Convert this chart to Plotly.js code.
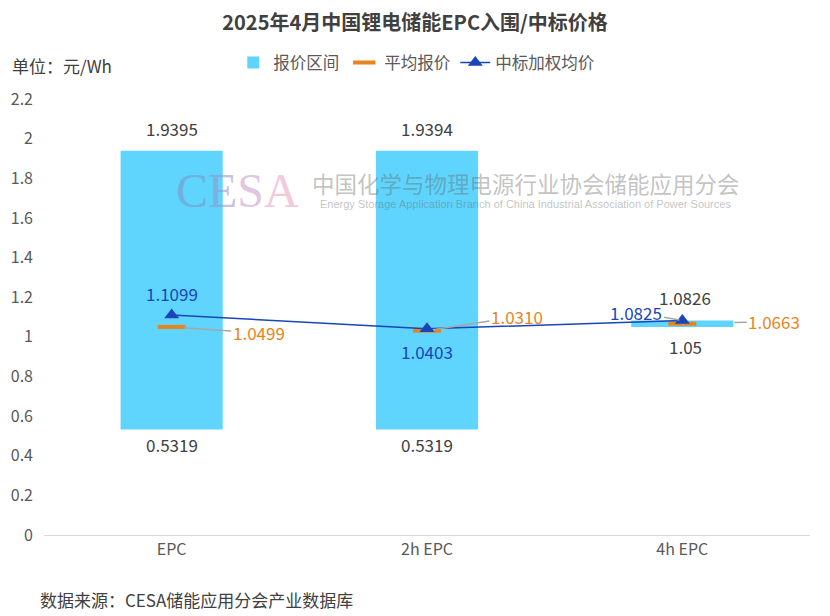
<!DOCTYPE html>
<html><head><meta charset="utf-8">
<script src="https://cdn.plot.ly/plotly-3.0.1.min.js"></script>
<style>body{margin:0;}#c{width:830px;height:616px;}</style>
</head><body><div id="c"></div>
<script>
const categories = ['EPC', '2h EPC', '4h EPC'];
const minPrice = [0.5319, 0.5319, 1.05];
const maxPrice = [1.9395, 1.9394, 1.0826];
const avgPrice = [1.0499, 1.0310, 1.0663];
const weightedPrice = [1.1099, 1.0403, 1.0825];
const yTicks = [0, 0.2, 0.4, 0.6, 0.8, 1, 1.2, 1.4, 1.6, 1.8, 2, 2.2];

const FONT = '"Noto Sans CJK SC", "Microsoft YaHei", sans-serif';
const BLUE = '#1846b8';
const ORANGE = '#e8841c';
const DARK = '#404040';

const traces = [
  {type: 'bar', name: '报价区间', x: categories,
   y: maxPrice.map((v, i) => v - minPrice[i]), base: minPrice,
   marker: {color: '#5fd4fd'}, hoverinfo: 'skip'},
  {type: 'scatter', mode: 'markers', name: '平均报价', x: categories, y: avgPrice,
   marker: {symbol: 'line-ew', size: 20, color: ORANGE, line: {color: ORANGE, width: 4}}},
  {type: 'scatter', mode: 'lines+markers', name: '中标加权均价', x: categories, y: weightedPrice,
   line: {color: BLUE, width: 1.5},
   marker: {symbol: 'triangle-up', size: 13, color: BLUE}}
];

const ann = [];
const lbl = (x, y, text, color, opts) => Object.assign({x: x, y: y, xref: 'x', yref: 'y', text: text,
  showarrow: false, font: {family: FONT, size: 17, color: color}}, opts);

categories.forEach((c, i) => {
  if (i < 2) {
    ann.push(lbl(c, maxPrice[i], maxPrice[i].toFixed(4), DARK, {yanchor: 'bottom', yshift: 8}));
    ann.push(lbl(c, minPrice[i], minPrice[i].toFixed(4), DARK, {yanchor: 'top', yshift: 0}));
  }
});
// EPC
ann.push(lbl(categories[0], weightedPrice[0], weightedPrice[0].toFixed(4), BLUE, {yanchor: 'bottom', yshift: 7}));
ann.push(lbl(categories[0], avgPrice[0], avgPrice[0].toFixed(4), ORANGE,
  {showarrow: true, arrowhead: 0, arrowcolor: '#a6a6a6', arrowwidth: 1.5, ax: 87, ay: 6, standoff: 12}));
// 2h EPC
ann.push(lbl(categories[1], weightedPrice[1], weightedPrice[1].toFixed(4), BLUE, {yanchor: 'top', yshift: -8}));
ann.push(lbl(categories[1], avgPrice[1], avgPrice[1].toFixed(4), ORANGE,
  {showarrow: true, arrowhead: 0, arrowcolor: '#a6a6a6', arrowwidth: 1.5, ax: 90, ay: -14, standoff: 6}));
// 4h EPC
ann.push(lbl(categories[2], weightedPrice[2], weightedPrice[2].toFixed(4), BLUE,
  {showarrow: true, arrowhead: 0, arrowcolor: '#a6a6a6', arrowwidth: 1.5, ax: -46, ay: -8, standoff: 3}));
ann.push(lbl(categories[2], maxPrice[2], maxPrice[2].toFixed(4), DARK, {yanchor: 'bottom', yshift: 8, xshift: 3}));
ann.push(lbl(categories[2], minPrice[2], String(minPrice[2]), DARK, {yanchor: 'top', yshift: -5, xshift: 3}));
ann.push(lbl(categories[2], avgPrice[2], avgPrice[2].toFixed(4), ORANGE,
  {showarrow: true, arrowhead: 0, arrowcolor: '#a6a6a6', arrowwidth: 1.5, ax: 92, ay: -2, standoff: 52}));

// watermark
ann.push({xref: 'paper', yref: 'paper', x: 0.252, y: 0.791, xanchor: 'center', yanchor: 'middle',
  showarrow: false, opacity: 0.55,
  text: '<span style="color:#7f93c8">C</span><span style="color:#9a92c8">E</span><span style="color:#c49ac8">S</span><span style="color:#eaa0bd">A</span>',
  font: {family: '"Liberation Serif", serif', size: 48}});
ann.push({xref: 'paper', yref: 'paper', x: 0.629, y: 0.807, xanchor: 'center', yanchor: 'middle',
  showarrow: false, text: '中国化学与物理电源行业协会储能应用分会',
  font: {family: FONT, size: 22.5, color: 'rgba(100,100,100,0.4)'}});
ann.push({xref: 'paper', yref: 'paper', x: 0.629, y: 0.759, xanchor: 'center', yanchor: 'middle',
  showarrow: false,
  text: 'Energy Storage Application Branch of China Industrial Association of Power Sources',
  font: {family: '"Liberation Sans", Arial, sans-serif', size: 11, color: 'rgba(100,100,100,0.4)'}});

// unit + source
ann.push({xref: 'paper', yref: 'paper', x: -0.044, y: 1.076, xanchor: 'left', yanchor: 'middle',
  showarrow: false, text: '单位：元/Wh', font: {family: FONT, size: 17, color: DARK}});
ann.push({xref: 'paper', yref: 'paper', x: -0.008, y: -0.149, xanchor: 'left', yanchor: 'middle',
  showarrow: false, text: '数据来源：CESA储能应用分会产业数据库', font: {family: FONT, size: 17, color: DARK}});

const layout = {
  width: 830, height: 616,
  margin: {l: 44, r: 20, t: 99, b: 81},
  paper_bgcolor: '#ffffff', plot_bgcolor: '#ffffff',
  font: {family: FONT, size: 16, color: '#595959'},
  title: {text: '<b>2025年4月中国锂电储能EPC入围/中标价格</b>', x: 0.5, xanchor: 'center',
          y: 0.962, yanchor: 'middle', font: {family: FONT, size: 20, color: DARK}},
  bargap: 0.6,
  showlegend: true,
  legend: {orientation: 'h', x: 0.486, xanchor: 'center', y: 1.083, yanchor: 'middle',
           font: {family: FONT, size: 16.5, color: '#595959'}, traceorder: 'normal', itemwidth: 30},
  xaxis: {type: 'category', showgrid: false, showline: true, linecolor: '#d9d9d9', linewidth: 1,
          ticks: '', tickfont: {size: 16, color: '#595959'}, zeroline: false},
  yaxis: {range: [0, 2.2], tickvals: yTicks, ticktext: yTicks.map(String), showgrid: false,
          zeroline: false, showline: false, ticks: '', ticklabelstandoff: 10,
          tickfont: {size: 16, color: '#595959'}},
  annotations: ann
};
Plotly.newPlot('c', traces, layout, {displayModeBar: false, staticPlot: true});
</script></body></html>
